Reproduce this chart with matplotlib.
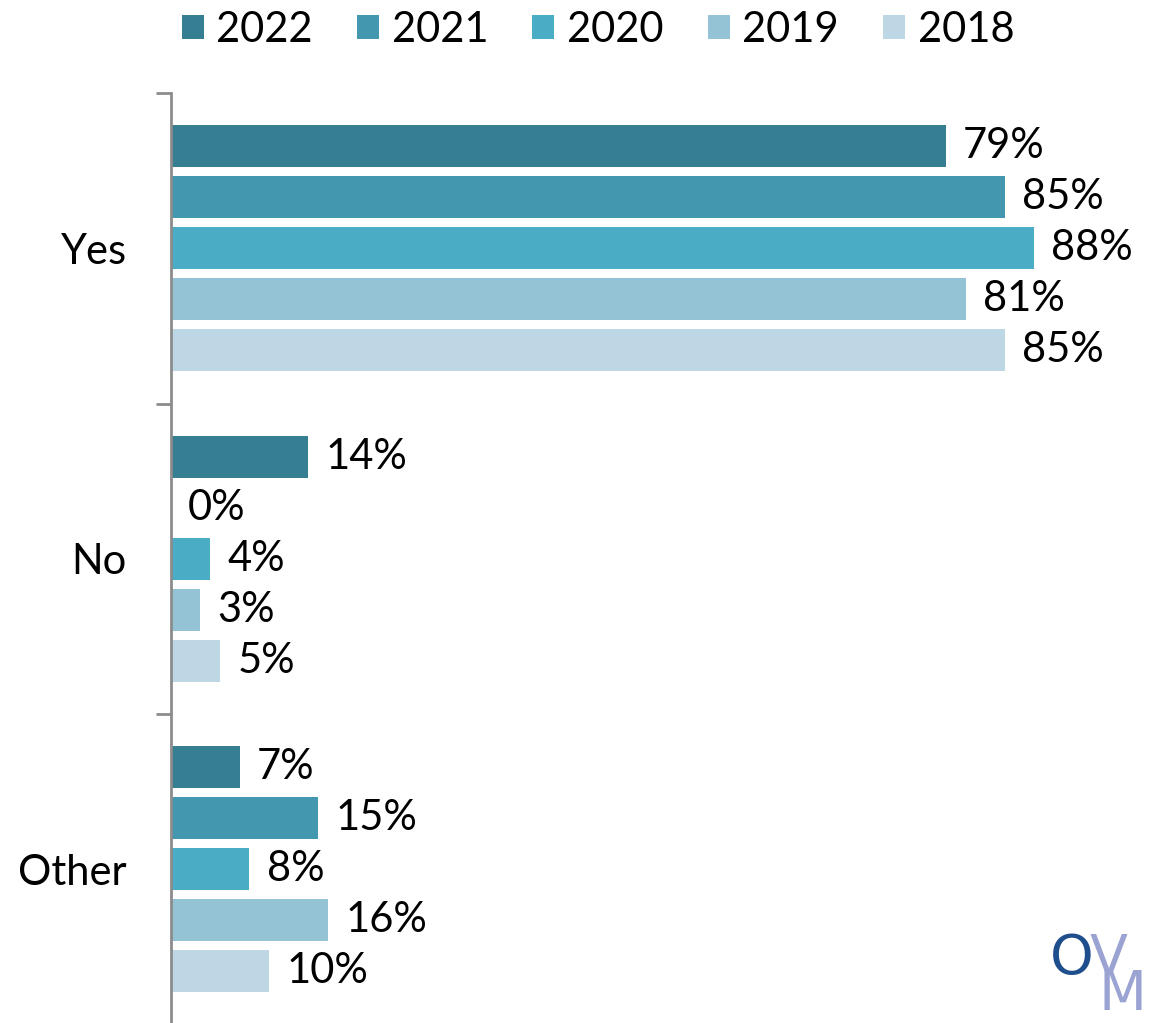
import numpy as np
import matplotlib.pyplot as plt

plt.rcParams['font.family'] = ['Lato', 'DejaVu Sans']

# Survey answers by year
categories = ['Yes', 'No', 'Other']
years = ['2022', '2021', '2020', '2019', '2018']
values = {
    '2022': [79, 14, 7],
    '2021': [85, 0, 15],
    '2020': [88, 4, 8],
    '2019': [81, 3, 16],
    '2018': [85, 5, 10],
}
colors = ['#367F93', '#4398B0', '#4BACC6', '#93C3D5', '#BDD8E4']

fig = plt.figure(figsize=(11.5, 10.23), dpi=100)
ax = fig.add_axes([171 / 1150, -1.5 / 1023, 981 / 1150, 931.5 / 1023])

y = np.arange(len(categories))
step = 0.164
bar_h = 0.135
for i, yr in enumerate(years):
    pos = y + (i - 2) * step
    bars = ax.barh(pos, values[yr], height=bar_h, color=colors[i], label=yr)
    for b, v in zip(bars, values[yr]):
        ax.text(v + 1.75, b.get_y() + b.get_height() / 2, f'{v}%',
                va='center', ha='left', fontsize=30, color='black')

ax.set_xlim(0, 100)
ax.set_ylim(len(categories) - 0.5, -0.5)

for s in ['top', 'right', 'bottom']:
    ax.spines[s].set_visible(False)
ax.spines['left'].set_color('#8C8C8C')
ax.spines['left'].set_linewidth(2)

ax.set_xticks([])
ax.set_yticks(y)
ax.set_yticklabels(categories, fontsize=30)
ax.tick_params(axis='y', which='major', length=0, pad=32)
ax.set_yticks(np.arange(-0.5, len(categories) + 0.5, 1), minor=True)
ax.tick_params(axis='y', which='minor', length=11, width=2, color='#8C8C8C')

fig.legend(loc='upper center', bbox_to_anchor=(0.52, 1.026), ncol=5,
           frameon=False, fontsize=30, handlelength=0.53, handleheight=0.53,
           handletextpad=0.3, columnspacing=1.06)

# partial logo in the corner
fig.text(1050 / 1150, 1 - 932 / 1023, 'O', fontsize=40, color='#1F4E8C',
         va='top', ha='left', family='DejaVu Sans')
fig.text(1090 / 1150, 1 - 932 / 1023, 'V', fontsize=40, color='#9BA3D3',
         va='top', ha='left', family='DejaVu Sans')
fig.text(1098 / 1150, 1 - 968 / 1023, 'M', fontsize=40, color='#9BA3D3',
         va='top', ha='left', family='DejaVu Sans')

fig.savefig('out.png', dpi=100)
